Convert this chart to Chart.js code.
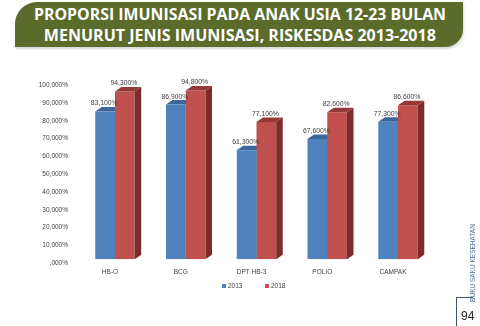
<!DOCTYPE html>
<html>
<head>
<meta charset="utf-8">
<script src="https://cdn.jsdelivr.net/npm/chart.js@4.4.1/dist/chart.umd.min.js"></script>
<style>
  html, body { margin: 0; padding: 0; background: #fff; }
  body { width: 480px; height: 326px; position: relative; overflow: hidden; font-family: "Liberation Sans", Arial, sans-serif; }
  #banner { position: absolute; left: 15px; top: 2px; width: 448px; height: 45px; background: #5a6b2b;
            border-radius: 22px 0 18px 0; box-shadow: 1px 2px 2px rgba(0,0,0,0.15); }
  .tline { position: absolute; left: 0; width: 480px; text-align: center; color: #fff; font-weight: bold;
           font-family: "Open Sans", sans-serif; font-size: 16.5px; white-space: nowrap; line-height: 1; }
  .tline span { display: inline-block; transform-origin: center center; }
  #c { position: absolute; left: 0; top: 0; }
  #legend { position: absolute; top: 282px; left: 0; width: 480px; font-size: 6.5px; color: #404040; }
  .lg { position: absolute; top: 0; white-space: nowrap; line-height: 8px; }
  .lg i { display: inline-block; width: 4px; height: 4px; margin-right: 2px; vertical-align: 0px; }
  #side { position: absolute; left: 472px; top: 263px; transform: translate(-50%, -50%) rotate(-90deg);
          font-size: 6.5px; color: #4a6ea0; white-space: nowrap; }
  #pgbox { position: absolute; left: 456px; top: 297px; width: 16px; height: 32px; border-left: 1.5px solid #44546a; border-top: 1.5px solid #44546a; }
  #pg { position: absolute; left: 461px; top: 310px; font-size: 12px; color: #222; line-height: 1; }
</style>
</head>
<body>
<div id="banner"></div>
<div class="tline" id="t1" style="top:6px"><span>PROPORSI IMUNISASI PADA ANAK USIA 12-23 BULAN</span></div>
<div class="tline" id="t2" style="top:27px"><span>MENURUT JENIS IMUNISASI, RISKESDAS 2013-2018</span></div>
<canvas id="c" width="480" height="326"></canvas>
<div id="legend">
  <div class="lg" style="left:222px"><i style="background:#4f81bd"></i>2013</div>
  <div class="lg" style="left:265px"><i style="background:#c0504d"></i>2018</div>
</div>
<div id="side">BUKU SAKU KESEHATAN</div>
<div id="pgbox"></div>
<div id="pg">94</div>
<script>
const categories = ['HB-O', 'BCG', 'DPT HB-3', 'POLIO', 'CAMPAK'];
const seriesNames = ['2013', '2018'];
const values2013 = [83.1, 86.9, 61.3, 67.6, 77.3];
const values2018 = [94.3, 94.8, 77.1, 82.6, 86.6];
const yTickLabels = [',000%', '10,000%', '20,000%', '30,000%', '40,000%', '50,000%', '60,000%', '70,000%', '80,000%', '90,000%', '100,000%'];

// fit title lines to measured widths
function fit(id, target) {
  const s = document.querySelector('#' + id + ' span');
  const w = s.getBoundingClientRect().width;
  s.style.transform = 'scaleX(' + (target / w) + ')';
}
fit('t1', 412);
fit('t2', 392);

const colors = {
  front: ['#4f81bd', '#c0504d'],
  top: ['#3d679c', '#953a38'],
  side: ['#345a88', '#7a2d2b']
};
const DX = 6.5, DY = 4.5;

function faces(ctx, el, i) {
  const p = el.getProps(['x', 'y', 'base', 'width'], true);
  const l = p.x - p.width / 2, r = p.x + p.width / 2;
  ctx.fillStyle = colors.side[i];
  ctx.beginPath();
  ctx.moveTo(r, p.y); ctx.lineTo(r + DX, p.y - DY); ctx.lineTo(r + DX, p.base - DY); ctx.lineTo(r, p.base);
  ctx.closePath(); ctx.fill();
  ctx.fillStyle = colors.top[i];
  ctx.beginPath();
  ctx.moveTo(l, p.y); ctx.lineTo(l + DX, p.y - DY); ctx.lineTo(r + DX, p.y - DY); ctx.lineTo(r, p.y);
  ctx.closePath(); ctx.fill();
}

const bar3d = {
  id: 'bar3d',
  beforeDatasetsDraw(chart) {
    const ctx = chart.ctx;
    ctx.save();
    chart.getDatasetMeta(0).data.forEach(el => faces(ctx, el, 0));
    ctx.restore();
  },
  afterDatasetsDraw(chart) {
    const ctx = chart.ctx;
    ctx.save();
    chart.getDatasetMeta(1).data.forEach(el => faces(ctx, el, 1));
    ctx.font = '6.8px "Liberation Sans", Arial, sans-serif';
    ctx.fillStyle = '#404040';
    ctx.textAlign = 'center';
    ctx.textBaseline = 'middle';
    [0, 1].forEach(di => {
      const ds = chart.data.datasets[di];
      chart.getDatasetMeta(di).data.forEach((el, k) => {
        const v = ds.data[k];
        ctx.fillText(v.toFixed(3).replace('.', ',') + '%', el.x - 1, el.y - 8);
      });
    });
    ctx.restore();
  }
};

new Chart(document.getElementById('c'), {
  type: 'bar',
  data: {
    labels: categories,
    datasets: [
      { label: seriesNames[0], data: values2013, backgroundColor: colors.front[0], borderWidth: 0,
        categoryPercentage: 0.558, barPercentage: 1.0 },
      { label: seriesNames[1], data: values2018, backgroundColor: colors.front[1], borderWidth: 0,
        categoryPercentage: 0.558, barPercentage: 1.0 }
    ]
  },
  options: {
    responsive: false,
    animation: false,
    layout: { padding: { left: 20, right: 46.6, top: 81.3, bottom: 46.7 } },
    plugins: { legend: { display: false }, tooltip: { enabled: false } },
    scales: {
      x: {
        grid: { display: false, drawTicks: false },
        border: { display: false },
        ticks: { color: '#404040', font: { family: '"Liberation Sans", Arial, sans-serif', size: 6.5 },
                 padding: 9, labelOffset: -5, maxRotation: 0, autoSkip: false },
        afterFit(s) { s.height = 20; }
      },
      y: {
        min: 0, max: 100,
        grid: { display: false, drawTicks: false },
        border: { display: false },
        ticks: { stepSize: 10, color: '#404040', font: { family: '"Liberation Sans", Arial, sans-serif', size: 6.5 },
                 padding: 11.6, labelOffset: 4,
                 callback: (v) => yTickLabels[Math.round(v / 10)] },
        afterFit(s) { s.width = 59.6; }
      }
    }
  },
  plugins: [bar3d]
});
</script>
</body>
</html>
